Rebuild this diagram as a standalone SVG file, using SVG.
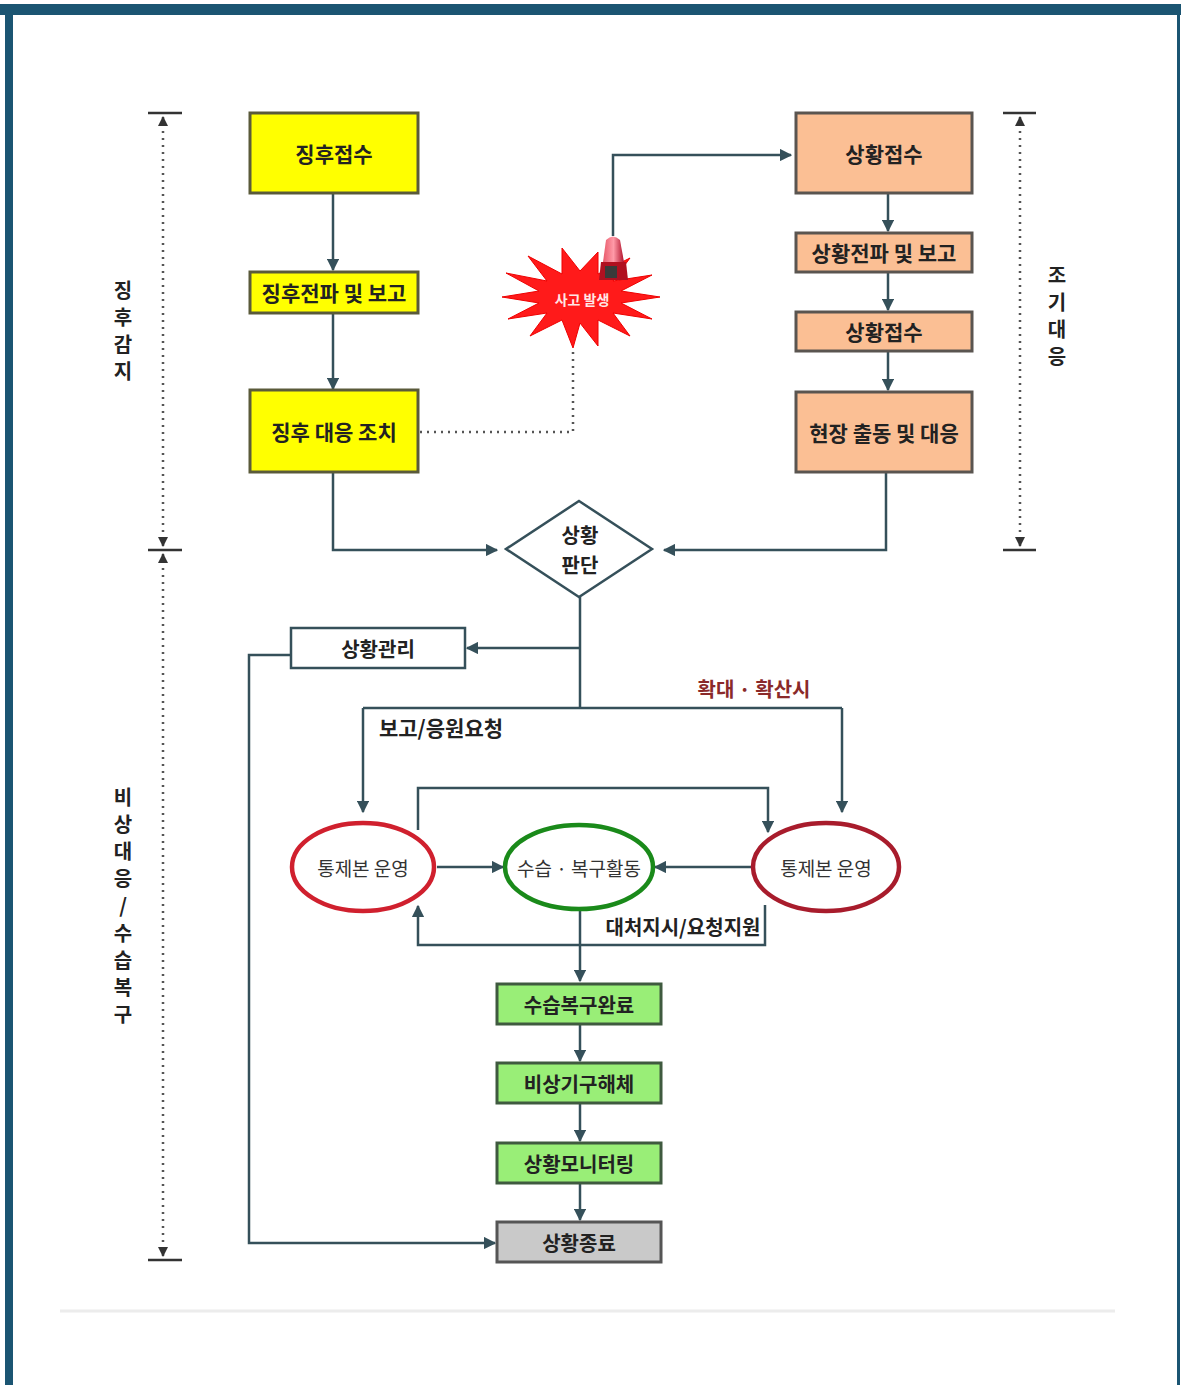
<svg xmlns="http://www.w3.org/2000/svg" width="1181" height="1385" viewBox="0 0 1181 1385">
<defs>
<style>
.ln{stroke:#35505a;stroke-width:2.5;fill:none}
.dot{stroke:#555;stroke-width:2.5;fill:none;stroke-dasharray:2 5}
.bar{stroke:#333;stroke-width:2.5}
.by{fill:#ffff00;stroke:#5a5a3a;stroke-width:3}
.bo{fill:#fbbf94;stroke:#5a5550;stroke-width:3}
.bg{fill:#99ee77;stroke:#3f5a3f;stroke-width:3}
.bgr{fill:#c9c9c9;stroke:#555;stroke-width:3}
.bw{fill:#fff;stroke:#35505a;stroke-width:2.5}
.t{font-family:"Noto Sans CJK KR","Noto Sans",sans-serif;font-size:20px;font-weight:bold;fill:#222;text-anchor:middle;dominant-baseline:central}
.tb{font-size:21px}
.e{font-family:"Noto Sans CJK KR","Noto Sans",sans-serif;font-size:19px;fill:#333;text-anchor:middle;dominant-baseline:central}
.s{font-family:"Noto Sans CJK KR","Noto Sans",sans-serif;font-size:20px;font-weight:bold;fill:#222;text-anchor:middle}
</style>
<marker id="a" viewBox="0 0 10 10" refX="9" refY="5" markerWidth="5" markerHeight="5" orient="auto"><path d="M0,0 L10,5 L0,10 z" fill="#35505a"/></marker>
<marker id="ad" viewBox="0 0 10 10" refX="9" refY="5" markerWidth="4" markerHeight="4" orient="auto-start-reverse"><path d="M0,0 L10,5 L0,10 z" fill="#333"/></marker>
<linearGradient id="sir" x1="0" y1="0" x2="1" y2="0"><stop offset="0" stop-color="#e85a6a"/><stop offset="0.5" stop-color="#ff9aa8"/><stop offset="1" stop-color="#b0102a"/></linearGradient>
</defs>

<!-- frame -->
<rect x="0" y="0" width="1181" height="1385" fill="#fff"/>
<rect x="0" y="4" width="1181" height="11" fill="#1b5572"/>
<rect x="5" y="4" width="8" height="1381" fill="#1b5572"/>
<rect x="1177" y="4" width="3" height="1381" fill="#1b5572"/>
<line x1="60" y1="1311" x2="1115" y2="1311" stroke="#ececec" stroke-width="3"/>

<!-- side scales -->
<g id="scale-left">
<line class="bar" x1="148" y1="113" x2="182" y2="113"/>
<line class="bar" x1="148" y1="550" x2="182" y2="550"/>
<line class="bar" x1="148" y1="1260" x2="182" y2="1260"/>
<line class="dot" x1="163" y1="117" x2="163" y2="546" marker-start="url(#ad)" marker-end="url(#ad)"/>
<line class="dot" x1="163" y1="554" x2="163" y2="1256" marker-start="url(#ad)" marker-end="url(#ad)"/>
<text class="s"><tspan x="123" y="298">징</tspan><tspan x="123" y="325">후</tspan><tspan x="123" y="352">감</tspan><tspan x="123" y="379">지</tspan></text>
<text class="s"><tspan x="123" y="805">비</tspan><tspan x="123" y="832">상</tspan><tspan x="123" y="859">대</tspan><tspan x="123" y="886">응</tspan><tspan x="123" y="913">/</tspan><tspan x="123" y="941">수</tspan><tspan x="123" y="968">습</tspan><tspan x="123" y="995">복</tspan><tspan x="123" y="1022">구</tspan></text>
</g>
<g id="scale-right">
<line class="bar" x1="1003" y1="113" x2="1036" y2="113"/>
<line class="bar" x1="1003" y1="550" x2="1036" y2="550"/>
<line class="dot" x1="1020" y1="117" x2="1020" y2="546" marker-start="url(#ad)" marker-end="url(#ad)"/>
<text class="s"><tspan x="1057" y="283">조</tspan><tspan x="1057" y="310">기</tspan><tspan x="1057" y="337">대</tspan><tspan x="1057" y="364">응</tspan></text>
</g>

<!-- connectors -->
<g id="connectors">
<line class="ln" x1="333" y1="194" x2="333" y2="270" marker-end="url(#a)"/>
<line class="ln" x1="333" y1="313" x2="333" y2="389" marker-end="url(#a)"/>
<polyline class="ln" points="333,472 333,550 497,550" marker-end="url(#a)"/>
<polyline class="dot" points="420,432 573,432 573,348"/>
<polyline class="ln" points="613,236 613,155 791,155" marker-end="url(#a)"/>
<line class="ln" x1="888" y1="194" x2="888" y2="231" marker-end="url(#a)"/>
<line class="ln" x1="888" y1="272" x2="888" y2="310" marker-end="url(#a)"/>
<line class="ln" x1="888" y1="351" x2="888" y2="390" marker-end="url(#a)"/>
<polyline class="ln" points="886,472 886,550 664,550" marker-end="url(#a)"/>
<line class="ln" x1="580" y1="597" x2="580" y2="708"/>
<line class="ln" x1="580" y1="648" x2="467" y2="648" marker-end="url(#a)"/>
<polyline class="ln" points="291,655 249,655 249,1243 495,1243" marker-end="url(#a)"/>
<polyline class="ln" points="363,708 842,708"/>
<line class="ln" x1="363" y1="708" x2="363" y2="812" marker-end="url(#a)"/>
<line class="ln" x1="842" y1="708" x2="842" y2="812" marker-end="url(#a)"/>
<line class="ln" x1="437" y1="867" x2="503" y2="867" marker-end="url(#a)"/>
<line class="ln" x1="751" y1="867" x2="655" y2="867" marker-end="url(#a)"/>
<polyline class="ln" points="418,830 418,788 768,788 768,832" marker-end="url(#a)"/>
<polyline class="ln" points="765,905 765,945 418,945 418,906" marker-end="url(#a)"/>
<line class="ln" x1="580" y1="911" x2="580" y2="981" marker-end="url(#a)"/>
<line class="ln" x1="580" y1="1025" x2="580" y2="1061" marker-end="url(#a)"/>
<line class="ln" x1="580" y1="1104" x2="580" y2="1141" marker-end="url(#a)"/>
<line class="ln" x1="580" y1="1184" x2="580" y2="1220" marker-end="url(#a)"/>
<text x="754" y="688" font-family="Noto Sans CJK KR, sans-serif" font-size="20" font-weight="bold" fill="#8a2a2a" text-anchor="middle" dominant-baseline="central">확대 · 확산시</text>
<text x="441" y="727" class="t tb">보고/응원요청</text>
<text x="683" y="926" class="t">대처지시/요청지원</text>
</g>

<!-- nodes -->
<g id="n1"><rect class="by" x="250" y="113" width="168" height="80"/><text class="t tb" x="334" y="153">징후접수</text></g>
<g id="n2"><rect class="by" x="250" y="272" width="168" height="41"/><text class="t tb" x="334" y="292">징후전파 및 보고</text></g>
<g id="n3"><rect class="by" x="250" y="390" width="168" height="82"/><text class="t tb" x="334" y="431">징후 대응 조치</text></g>

<g id="accident">
<polygon fill="#ff1a1a" stroke="#e00" stroke-width="1" points="660,297 621,303 652,319 613,313 630,336 598,320 598,346 580,323 573,348 562,320 530,336 547,313 508,319 539,303 502,297 539,291 506,273 547,281 528,256 562,274 562,248 580,271 598,252 598,274 630,258 613,281 652,275 621,291"/>
<path d="M603,262 L606,240 Q613,233 620,240 L624,262 Z" fill="url(#sir)"/>
<path d="M601,262 L626,262 L628,280 L599,280 Z" fill="#b01020"/>
<rect x="605" y="266" width="12" height="12" fill="#3a3a3a"/>
<text x="582" y="299" font-family="Noto Sans CJK KR, sans-serif" font-size="14" font-weight="bold" fill="#ffe6e6" text-anchor="middle" dominant-baseline="central">사고 발생</text>
</g>

<g id="o1"><rect class="bo" x="796" y="113" width="176" height="80"/><text class="t tb" x="884" y="153">상황접수</text></g>
<g id="o2"><rect class="bo" x="796" y="233" width="176" height="39"/><text class="t tb" x="884" y="252">상황전파 및 보고</text></g>
<g id="o3"><rect class="bo" x="796" y="312" width="176" height="39"/><text class="t tb" x="884" y="331">상황접수</text></g>
<g id="o4"><rect class="bo" x="796" y="392" width="176" height="80"/><text class="t tb" x="884" y="432">현장 출동 및 대응</text></g>

<g id="decision"><polygon points="579,501 652,549 579,597 506,549" fill="#fff" stroke="#35505a" stroke-width="2.5"/><text class="t" x="580" y="534" font-size="18">상황</text><text class="t" x="580" y="564" font-size="18">판단</text></g>

<g id="mgmt"><rect class="bw" x="291" y="628" width="174" height="40"/><text class="t" x="378" y="648">상황관리</text></g>

<g id="hq-left"><ellipse cx="363" cy="867" rx="71" ry="44" fill="#fff" stroke="#d0202e" stroke-width="4.5"/><text class="e" x="363" y="867">통제본 운영</text></g>
<g id="recovery"><ellipse cx="579" cy="867" rx="74" ry="42" fill="#fff" stroke="#1a8a1a" stroke-width="4.5"/><text class="e" x="579" y="867">수습 · 복구활동</text></g>
<g id="hq-right"><ellipse cx="826" cy="867" rx="73" ry="44" fill="#fff" stroke="#a81c2c" stroke-width="4.5"/><text class="e" x="826" y="867">통제본 운영</text></g>

<g id="g1"><rect class="bg" x="497" y="984" width="164" height="40"/><text class="t" x="579" y="1004">수습복구완료</text></g>
<g id="g2"><rect class="bg" x="497" y="1063" width="164" height="40"/><text class="t" x="579" y="1083">비상기구해체</text></g>
<g id="g3"><rect class="bg" x="497" y="1143" width="164" height="40"/><text class="t" x="579" y="1163">상황모니터링</text></g>
<g id="end"><rect class="bgr" x="497" y="1222" width="164" height="40"/><text class="t" x="579" y="1242">상황종료</text></g>
</svg>
